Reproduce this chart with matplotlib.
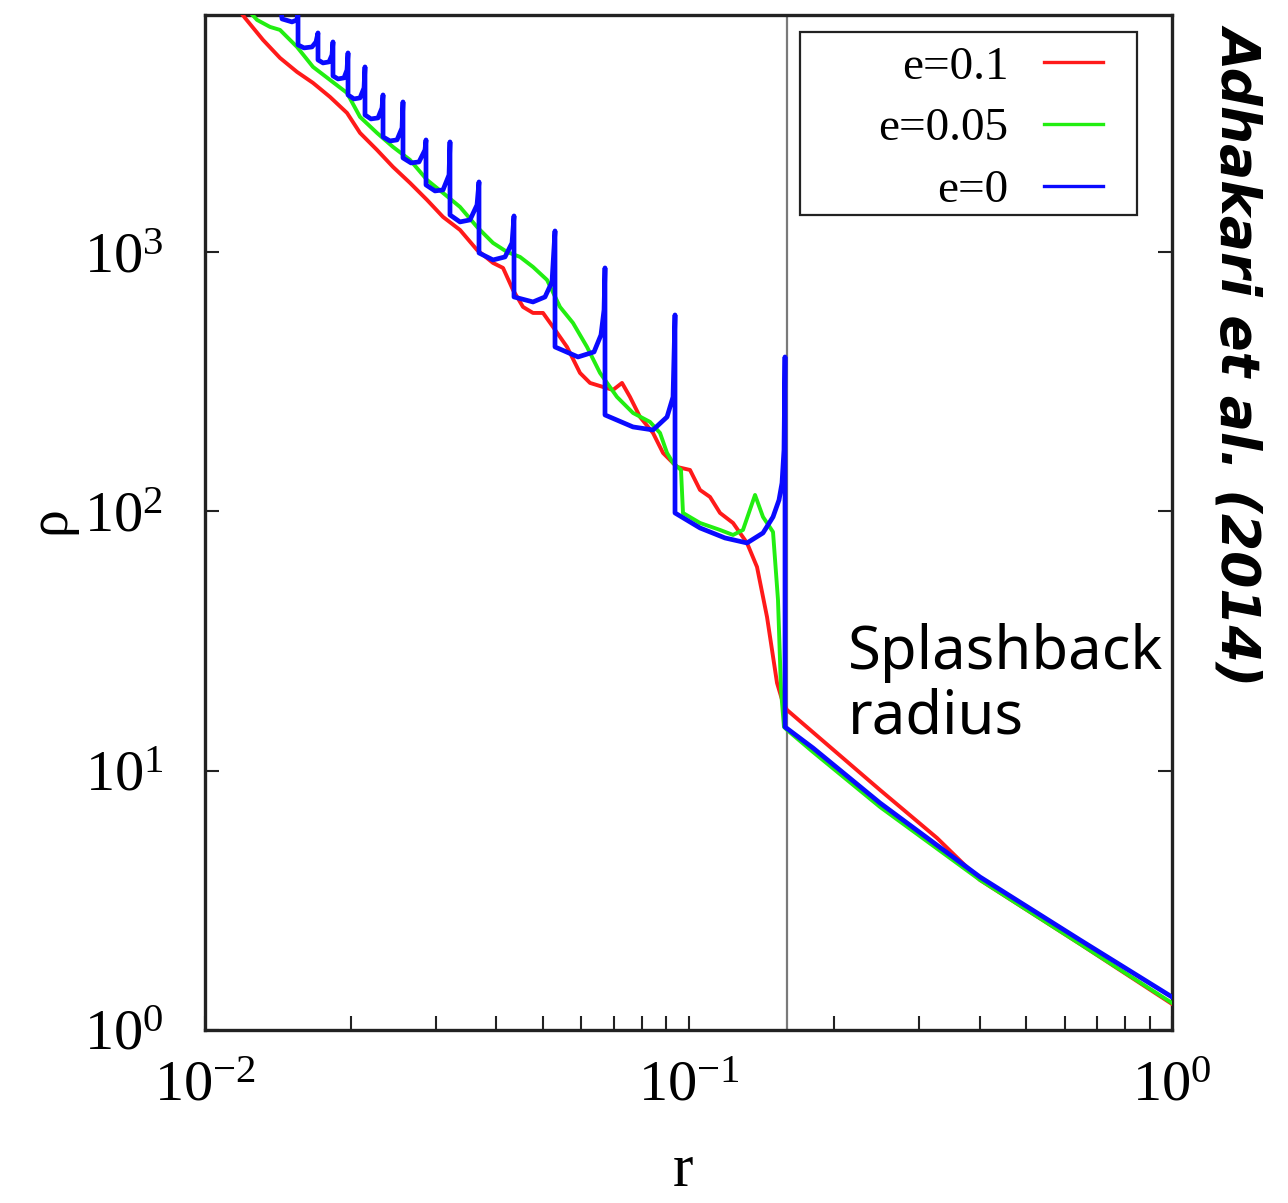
import numpy as np
import matplotlib
matplotlib.use("Agg")
import matplotlib.pyplot as plt
from matplotlib.patches import Rectangle
from matplotlib.lines import Line2D
from matplotlib.ticker import NullFormatter, NullLocator

# ---------------- data: (log10 r, log10 rho) ----------------
series_labels = ["e=0.1", "e=0.05", "e=0"]

pts_e01 = [(-1.9297, 3.9336), (-1.9173, 3.9028), (-1.8800, 3.8179), (-1.8449, 3.7485),
           (-1.8097, 3.6945), (-1.7766, 3.6521), (-1.7415, 3.5981), (-1.7063, 3.5364),
           (-1.6794, 3.4593), (-1.6443, 3.3937), (-1.6112, 3.3282), (-1.5760, 3.2665),
           (-1.5408, 3.2009), (-1.5077, 3.1353), (-1.4726, 3.0852), (-1.4374, 3.0081),
           (-1.4043, 2.9579), (-1.3836, 2.9387), (-1.3630, 2.8538), (-1.3423, 2.7883),
           (-1.3216, 2.7651), (-1.3009, 2.7651), (-1.2802, 2.7111), (-1.2513, 2.6340),
           (-1.2244, 2.5337), (-1.2037, 2.4952), (-1.1768, 2.4797), (-1.1561, 2.4682),
           (-1.1375, 2.4952), (-1.1210, 2.4412), (-1.1003, 2.3640), (-1.0734, 2.3023),
           (-1.0527, 2.2252), (-1.0238, 2.1712), (-0.9969, 2.1596), (-0.9762, 2.0825),
           (-0.9555, 2.0555), (-0.9348, 1.9938), (-0.9079, 1.9552), (-0.8790, 1.8781),
           (-0.8583, 1.7856), (-0.8376, 1.5927), (-0.8169, 1.3382), (-0.8045, 1.2611),
           (-0.7962, 1.2341), (-0.6039, 0.9256), (-0.4860, 0.7404), (-0.3971, 0.5785),
           (-0.1902, 0.3317), (0.0000, 0.1003)]

pts_e005 = [(-1.9111, 3.9336), (-1.8924, 3.8951), (-1.8656, 3.8681), (-1.8449, 3.8565),
            (-1.8097, 3.7909), (-1.7766, 3.7138), (-1.7415, 3.6637), (-1.7063, 3.6135),
            (-1.6794, 3.5210), (-1.6443, 3.4593), (-1.6112, 3.4053), (-1.5760, 3.3552),
            (-1.5408, 3.2780), (-1.5077, 3.2279), (-1.4726, 3.1739), (-1.4374, 3.0968),
            (-1.4043, 3.0351), (-1.3754, 3.0004), (-1.3485, 2.9811), (-1.3216, 2.9425),
            (-1.2926, 2.8924), (-1.2658, 2.7883), (-1.2389, 2.7265), (-1.2099, 2.6340),
            (-1.1830, 2.5337), (-1.1479, 2.4412), (-1.1148, 2.3795), (-1.0796, 2.3448),
            (-1.0589, 2.3023), (-1.0444, 2.2252), (-1.0320, 2.1866), (-1.0155, 2.1596),
            (-1.0114, 1.9938), (-0.9762, 1.9552), (-0.9348, 1.9283), (-0.9079, 1.9090),
            (-0.8873, 1.9283), (-0.8624, 2.0632), (-0.8459, 1.9784), (-0.8252, 1.9205),
            (-0.8149, 1.6583), (-0.8087, 1.3112), (-0.8025, 1.1685), (-0.7962, 1.1570),
            (-0.7425, 1.0721), (-0.6039, 0.8600), (-0.3971, 0.5785), (-0.1902, 0.3317),
            (0.0000, 0.1041)]

pts_e0 = [(-1.8449, 3.9600), (-1.8407, 3.8989), (-1.8201, 3.8874), (-1.8097, 3.8951),
          (-1.8076, 3.9300), (-1.8076, 3.7987), (-1.7952, 3.7871), (-1.7787, 3.7909),
          (-1.7704, 3.8102), (-1.7663, 3.8449), (-1.7663, 3.7408), (-1.7559, 3.7292),
          (-1.7435, 3.7331), (-1.7373, 3.7601), (-1.7353, 3.8102), (-1.7353, 3.6791),
          (-1.7249, 3.6675), (-1.7125, 3.6714), (-1.7063, 3.7022), (-1.7042, 3.7678),
          (-1.7042, 3.6058), (-1.6918, 3.5904), (-1.6794, 3.5943), (-1.6711, 3.6328),
          (-1.6691, 3.7138), (-1.6691, 3.5287), (-1.6567, 3.5133), (-1.6422, 3.5171),
          (-1.6339, 3.5557), (-1.6318, 3.6058), (-1.6318, 3.4439), (-1.6174, 3.4284),
          (-1.6029, 3.4323), (-1.5925, 3.4786), (-1.5905, 3.5788), (-1.5905, 3.3629),
          (-1.5739, 3.3436), (-1.5574, 3.3474), (-1.5450, 3.3937), (-1.5429, 3.4323),
          (-1.5429, 3.2587), (-1.5243, 3.2356), (-1.5077, 3.2395), (-1.4953, 3.2973),
          (-1.4933, 3.4246), (-1.4933, 3.1430), (-1.4726, 3.1161), (-1.4519, 3.1238),
          (-1.4374, 3.1816), (-1.4333, 3.2703), (-1.4333, 2.9965), (-1.4043, 2.9695),
          (-1.3795, 2.9811), (-1.3650, 3.0351), (-1.3609, 3.1392), (-1.3609, 2.8268),
          (-1.3216, 2.8075), (-1.2968, 2.8268), (-1.2823, 2.8847), (-1.2761, 3.0813),
          (-1.2761, 2.6340), (-1.2285, 2.5954), (-1.1954, 2.6147), (-1.1810, 2.6803),
          (-1.1747, 2.7767), (-1.1727, 2.9387), (-1.1727, 2.3717), (-1.1148, 2.3255),
          (-1.0734, 2.3139), (-1.0444, 2.3640), (-1.0320, 2.4412), (-1.0279, 2.7574),
          (-1.0279, 1.9938), (-0.9762, 1.9360), (-0.9245, 1.8974), (-0.8790, 1.8781),
          (-0.8459, 1.9167), (-0.8252, 1.9784), (-0.8128, 2.0439), (-0.8066, 2.1095),
          (-0.8025, 2.2368), (-0.8004, 2.5954), (-0.8004, 1.1685), (-0.7425, 1.0875),
          (-0.6039, 0.8754), (-0.3971, 0.5900), (-0.1902, 0.3471), (0.0000, 0.1273)]

splashback_r = 0.16

x_major = [0.01, 0.1, 1.0]
x_major_labels = [r"$\mathregular{10^{-2}}$", r"$\mathregular{10^{-1}}$", r"$\mathregular{10^{0}}$"]
x_minor = [0.02, 0.03, 0.04, 0.05, 0.06, 0.07, 0.08, 0.09,
           0.2, 0.3, 0.4, 0.5, 0.6, 0.7, 0.8, 0.9]
y_major = [1, 10, 100, 1000]
y_major_labels = [r"$\mathregular{10^{0}}$", r"$\mathregular{10^{1}}$",
                  r"$\mathregular{10^{2}}$", r"$\mathregular{10^{3}}$"]
x_limits = (0.01, 1.0)
y_limits = (1.0, 10 ** 3.914)

series_colors = ["#ff1a1a", "#22ee11", "#0a0aff"]
series_widths = [2.8, 2.8, 3.4]

# ---------------- figure ----------------
plt.rcParams["font.family"] = ["Liberation Serif", "DejaVu Serif"]
plt.rcParams["mathtext.fontset"] = "custom"
plt.rcParams["mathtext.rm"] = "Liberation Serif"

W, H = 1288, 1203
fig = plt.figure(figsize=(W / 100, H / 100), dpi=100)
ax = fig.add_axes([205 / W, 173 / H, 967 / W, 1015 / H])

ax.set_xscale("log")
ax.set_yscale("log")

ax.axvline(splashback_r, color="#7a7a7a", lw=1.6, zorder=1)

for pts, c, w, lab in zip([pts_e01, pts_e005, pts_e0], series_colors, series_widths, series_labels):
    arr = np.array(pts)
    ax.plot(10 ** arr[:, 0], 10 ** arr[:, 1], color=c, lw=w,
            solid_joinstyle="round", zorder=3, label=lab)

ax.set_xlim(*x_limits)
ax.set_ylim(*y_limits)

ax.set_xticks(x_major, x_major_labels)
ax.set_xticks(x_minor, minor=True)
ax.xaxis.set_minor_formatter(NullFormatter())
ax.set_yticks(y_major, y_major_labels)
ax.yaxis.set_minor_locator(NullLocator())

ax.tick_params(axis="x", which="both", direction="in", length=10, width=1.5,
               bottom=True, top=False, color="#222222")
ax.tick_params(axis="x", which="major", labelsize=42, pad=22)
ax.tick_params(axis="y", which="major", direction="in", length=10, width=1.5,
               left=True, right=True, labelsize=42, pad=30, color="#222222")

for sp in ax.spines.values():
    sp.set_linewidth(2.4)
    sp.set_color("#222222")

# legend box (gnuplot style)
rect = Rectangle((0.615, 0.803), 0.349, 0.180, transform=ax.transAxes,
                 facecolor="white", edgecolor="#222222", lw=1.6, zorder=5)
ax.add_patch(rect)
leg_handles = [Line2D([], [], color=c, lw=2.4) for c in series_colors]
leg = ax.legend(leg_handles, series_labels, loc="upper right",
                bbox_to_anchor=(0.9286, 0.970), bbox_transform=ax.transAxes,
                frameon=False, markerfirst=False, fontsize=34,
                handlelength=1.25, handletextpad=0.75, labelspacing=0.40,
                borderpad=0, borderaxespad=0)
leg.set_zorder(6)

# annotation text
ax.text(0.665, 0.401, "Splashback\nradius", transform=ax.transAxes,
        ha="left", va="top", fontsize=43, family=["Noto Sans", "DejaVu Sans"],
        linespacing=1.1, zorder=7)

fig.text(1240 / W, 1 - 354 / H, "Adhakari et al. (2014)", rotation=270,
         ha="center", va="center", fontsize=38.5, fontweight="bold", fontstyle="italic",
         family=["DejaVu Sans"])

# axis labels
fig.text(50 / W, 1 - 520 / H, "ρ", rotation=90, ha="center", va="center", fontsize=40)
fig.text(683 / W, 1 - 1186 / H, "r", ha="center", va="baseline", fontsize=44)

fig.savefig("out.png", dpi=100)
